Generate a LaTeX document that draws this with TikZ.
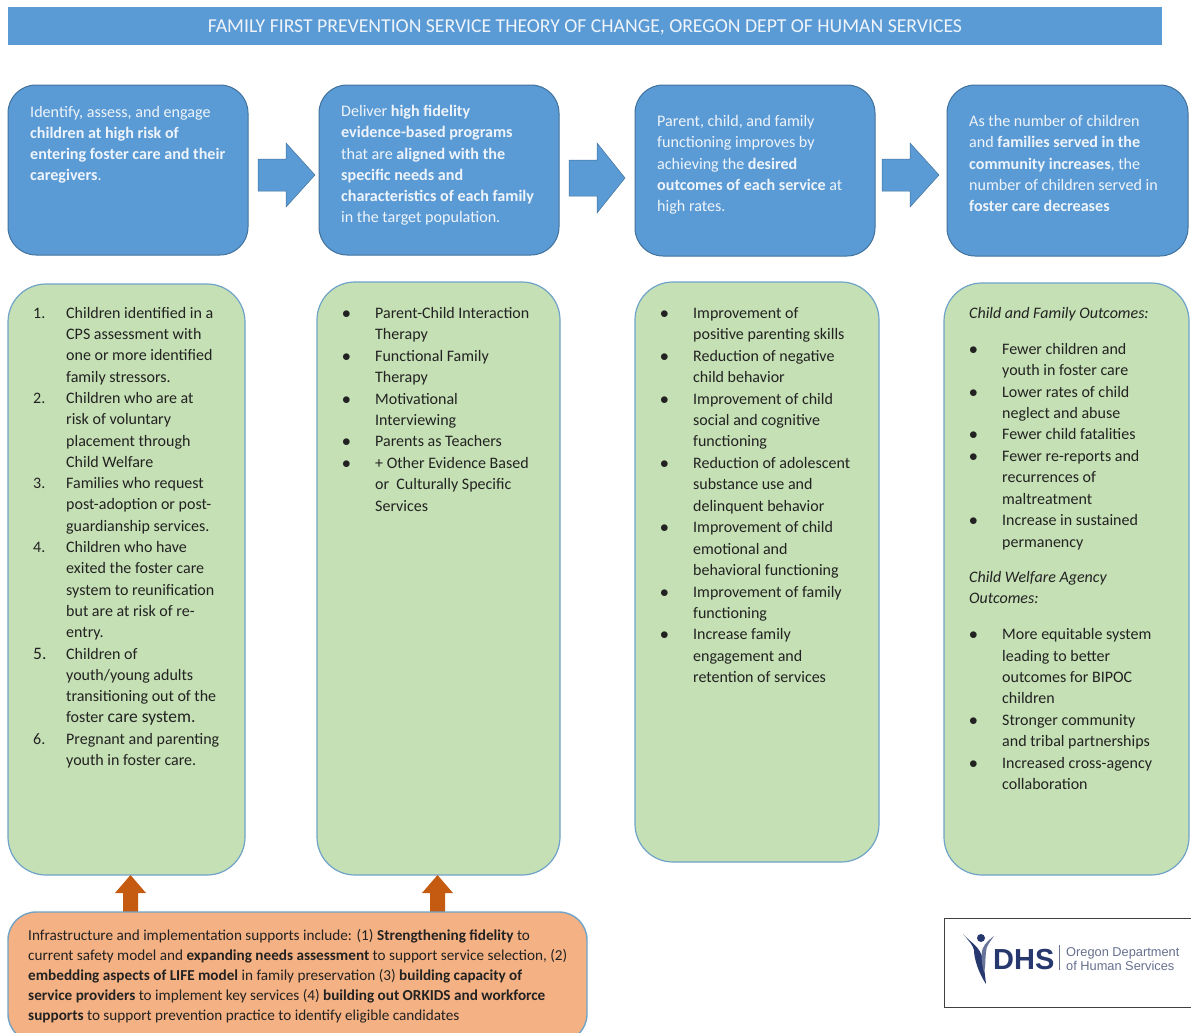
\documentclass[tikz,border=0pt]{standalone}
\usepackage{fontspec}
\setmainfont{Carlito}
\newfontfamily\logofont{Liberation Sans}
\definecolor{blu}{HTML}{5B9BD5}
\definecolor{bluedge}{HTML}{41719C}
\definecolor{grn}{HTML}{C5E0B4}
\definecolor{grnedge}{HTML}{6FA3C8}
\definecolor{org}{HTML}{F4B183}
\definecolor{upar}{HTML}{C55A11}
\definecolor{wtxt}{HTML}{EEF4FA}
\definecolor{dtxt}{HTML}{222222}
\definecolor{navy}{HTML}{27386F}
\definecolor{logog}{HTML}{66708F}
\newcommand\mk[1]{\makebox[33pt][l]{#1}}
\newcommand\st{\rule{0pt}{12pt}}
\tikzset{
 x=1pt,y=-1pt,
 titlebar/.style={fill=blu,draw=none,minimum width=1154pt,minimum height=38pt,inner sep=0pt,text=wtxt,font=\fontsize{19.7}{22}\selectfont},
 bluebox/.style={fill=blu,draw=bluedge,line width=1pt,rounded corners=28pt,inner sep=0pt},
 grnbox/.style={fill=grn,draw=grnedge,line width=1.2pt,rounded corners=38pt,inner sep=0pt},
 orgbox/.style={fill=org,draw=grnedge,line width=1.4pt,rounded corners=28pt,inner sep=0pt},
 btext/.style={anchor=north west,inner sep=0pt,align=left,text=wtxt,font=\fontsize{16.1}{21.2}\selectfont},
 gtext/.style={anchor=north west,inner sep=0pt,align=left,text=dtxt,font=\fontsize{16}{21.45}\selectfont},
 otext/.style={anchor=north west,inner sep=0pt,align=left,text=dtxt,font=\fontsize{15.2}{20}\selectfont},
 barrow/.style={fill=blu,draw=bluedge,line width=.5pt},
 uarrow/.style={fill=upar,draw=none},
}
\begin{document}
\begin{tikzpicture}
\useasboundingbox (0,0) rectangle (1191,1033);
\fill[white] (0,0) rectangle (1191,1033);
\node[titlebar] (title) at (585,26) {\raisebox{-7pt}[0pt][0pt]{FAMILY FIRST PREVENTION SERVICE THEORY OF CHANGE, OREGON DEPT OF HUMAN SERVICES}};

% top boxes
\node[bluebox,minimum width=240pt,minimum height=170pt] (b1) at (128,170) {};
\node[bluebox,minimum width=240pt,minimum height=170pt] (b2) at (439,170) {};
\node[bluebox,minimum width=240pt,minimum height=171pt] (b3) at (755,170.5) {};
\node[bluebox,minimum width=241pt,minimum height=171pt] (b4) at (1067.5,170.5) {};
\node[btext] (t1) at (30,105) {\st Identify, assess, and engage\\\textbf{children at high risk of}\\\textbf{entering foster care and their}\\\textbf{caregivers}.};
\node[btext] (t2) at (341,104.5) {\st Deliver \textbf{high fidelity}\\\textbf{evidence-based programs}\\that are \textbf{aligned with the}\\\textbf{specific needs and}\\\textbf{characteristics of each family}\\in the target population.};
\node[btext] (t3) at (657,114.5) {\st Parent, child, and family\\functioning improves by\\achieving the \textbf{desired}\\\textbf{outcomes of each service} at\\high rates.};
\node[btext] (t4) at (969,114.5) {\st As the number of children\\and \textbf{families served in the}\\\textbf{community increases}, the\\number of children served in\\\textbf{foster care decreases}};

% block arrows
\draw[barrow] (258,159) -- (286,159) -- (286,143) -- (315,175) -- (286,207) -- (286,191) -- (258,191) -- cycle;
\draw[barrow] (569,160) -- (597,160) -- (597,143) -- (625,178) -- (597,213) -- (597,196) -- (569,196) -- cycle;
\draw[barrow] (882,159) -- (910,159) -- (910,143) -- (939,175) -- (910,207) -- (910,191) -- (882,191) -- cycle;

% green boxes
\node[grnbox,minimum width=237pt,minimum height=591pt] (g1) at (126.5,579.5) {};
\node[grnbox,minimum width=243pt,minimum height=593pt] (g2) at (438.5,578.5) {};
\node[grnbox,minimum width=244pt,minimum height=580pt] (g3) at (757,572) {};
\node[grnbox,minimum width=245pt,minimum height=592pt] (g4) at (1066.5,579) {};

\node[gtext,font=\fontsize{16}{21.3}\selectfont] (l1) at (33,306) {\st\mk{1.}Children identified in a\\\mk{}CPS assessment with\\\mk{}one or more identified\\\mk{}family stressors.\\
\mk{2.}Children who are at\\\mk{}risk of voluntary\\\mk{}placement through\\\mk{}Child Welfare\\
\mk{3.}Families who request\\\mk{}post-adoption or post-\\\mk{}guardianship services.\\
\mk{4.}Children who have\\\mk{}exited the foster care\\\mk{}system to reunification\\\mk{}but are at risk of re-\\\mk{}entry.\\
\mk{\fontsize{17.5}{21.3}\selectfont 5.}Children of\\\mk{}youth/young adults\\\mk{}transitioning out of the\\\mk{}foster {\fontsize{17.5}{21.3}\selectfont care system.}\\
\mk{6.}Pregnant and parenting\\\mk{}youth in foster care.};

\node[gtext] (l2) at (342,306) {\st\mk{$\bullet$}Parent-Child Interaction\\\mk{}Therapy\\\mk{$\bullet$}Functional Family\\\mk{}Therapy\\\mk{$\bullet$}Motivational\\\mk{}Interviewing\\\mk{$\bullet$}Parents as Teachers\\\mk{$\bullet$}+ Other Evidence Based\\\mk{}or\ \ Culturally Specific\\\mk{}Services};

\node[gtext] (l3) at (660,306) {\st\mk{$\bullet$}Improvement of\\\mk{}positive parenting skills\\\mk{$\bullet$}Reduction of negative\\\mk{}child behavior\\\mk{$\bullet$}Improvement of child\\\mk{}social and cognitive\\\mk{}functioning\\\mk{$\bullet$}Reduction of adolescent\\\mk{}substance use and\\\mk{}delinquent behavior\\\mk{$\bullet$}Improvement of child\\\mk{}emotional and\\\mk{}behavioral functioning\\\mk{$\bullet$}Improvement of family\\\mk{}functioning\\\mk{$\bullet$}Increase family\\\mk{}engagement and\\\mk{}retention of services};

\node[gtext] (l4) at (969,306) {\st\textit{Child and Family Outcomes:}\\[14.5pt]
\mk{$\bullet$}Fewer children and\\\mk{}youth in foster care\\\mk{$\bullet$}Lower rates of child\\\mk{}neglect and abuse\\\mk{$\bullet$}Fewer child fatalities\\\mk{$\bullet$}Fewer re-reports and\\\mk{}recurrences of\\\mk{}maltreatment\\\mk{$\bullet$}Increase in sustained\\\mk{}permanency\\[13.5pt]
\textit{Child Welfare Agency}\\\textit{Outcomes:}\\[14.5pt]
\mk{$\bullet$}More equitable system\\\mk{}leading to better\\\mk{}outcomes for BIPOC\\\mk{}children\\\mk{$\bullet$}Stronger community\\\mk{}and tribal partnerships\\\mk{$\bullet$}Increased cross-agency\\\mk{}collaboration};

% orange box and up arrows
\fill[uarrow] (130.5,875) -- (146,893) -- (138,893) -- (138,914) -- (123,914) -- (123,893) -- (115,893) -- cycle;
\fill[uarrow] (437.5,875) -- (453,893) -- (445,893) -- (445,914) -- (430,914) -- (430,893) -- (422,893) -- cycle;
\node[orgbox,minimum width=579pt,minimum height=130pt] (o) at (297.5,977) {};
\node[otext] (ot) at (28,928) {\st Infrastructure and implementation supports include: (1) \textbf{Strengthening fidelity} to\\current safety model and \textbf{expanding needs assessment} to support service selection, (2)\\\textbf{embedding aspects of LIFE model} in family preservation (3) \textbf{building capacity of}\\\textbf{service providers} to implement key services (4) \textbf{building out ORKIDS and workforce}\\\textbf{supports} to support prevention practice to identify eligible candidates};

% logo
\draw[draw=black!75,line width=1pt,fill=white] (944,918) rectangle (1195,1007);
\fill[navy] (981,938) circle (4pt);
\fill[navy] (963,934) .. controls (972,944) and (980,946) .. (983,960) .. controls (984,968) and (985,975) .. (986,984) .. controls (978,972) and (974,958) .. (974,950) .. controls (973,945) and (968,940) .. cycle;
\fill[navy!70] (994,936) .. controls (990,942) and (986,946) .. (986,952) .. controls (985,958) and (986,966) .. (984,972) .. controls (981,962) and (981,952) .. (983,948) .. controls (985,943) and (990,939) .. cycle;
\node[inner sep=0pt,anchor=base west,text=navy,font=\logofont\bfseries\fontsize{29}{29}\selectfont] (dhs) at (993,969) {DHS};
\draw[logog,line width=.8pt] (1059,945) -- (1059,970);
\node[inner sep=0pt,anchor=west,align=left,text=logog,font=\logofont\fontsize{12.8}{14}\selectfont] (oreg) at (1066,959) {Oregon Department\\of Human Services};
\end{tikzpicture}
\end{document}
